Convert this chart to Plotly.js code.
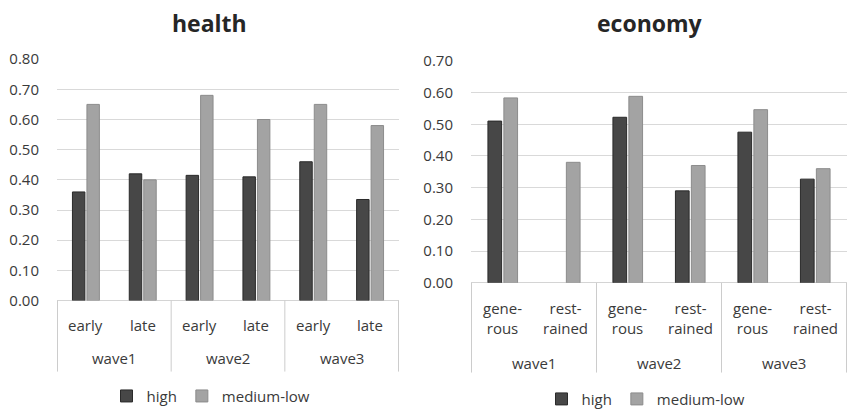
<!DOCTYPE html>
<html>
<head>
<meta charset="utf-8">
<script src="https://cdn.plot.ly/plotly-3.0.1.min.js"></script>
<style>html,body{margin:0;padding:0;background:#fff;overflow:hidden}</style>
</head>
<body>
<div id="chart" style="width:847px;height:416px"></div>
<script>
const waves = ["wave1", "wave1", "wave2", "wave2", "wave3", "wave3"];
const healthSubs = ["early", "late", "early", "late", "early", "late"];
const healthHigh = [0.36, 0.42, 0.415, 0.41, 0.46, 0.335];
const healthMedLow = [0.65, 0.40, 0.68, 0.60, 0.65, 0.58];
const econSubs = ["gene-<br>rous", "rest-<br>rained", "gene-<br>rous", "rest-<br>rained", "gene-<br>rous", "rest-<br>rained"];
const econHigh = [0.51, null, 0.522, 0.29, 0.475, 0.327];
const econMedLow = [0.583, 0.38, 0.588, 0.37, 0.546, 0.36];
const healthTicks = [0, 0.1, 0.2, 0.3, 0.4, 0.5, 0.6, 0.7, 0.8];
const econTicks = [0, 0.1, 0.2, 0.3, 0.4, 0.5, 0.6, 0.7];

const darkFill = "#474747", darkLine = "#2a2a2a";
const lightFill = "#a3a3a3", lightLine = "#8c8c8c";
const FONT = "Open Sans, Noto Sans, sans-serif";
const txt = "#3a3a3a";

const traces = [
  {type: "bar", name: "high", x: [waves, healthSubs], y: healthHigh, xaxis: "x", yaxis: "y",
   marker: {color: darkFill, line: {color: darkLine, width: 1}}, legend: "legend"},
  {type: "bar", name: "medium-low", x: [waves, healthSubs], y: healthMedLow, xaxis: "x", yaxis: "y",
   marker: {color: lightFill, line: {color: lightLine, width: 1}}, legend: "legend"},
  {type: "bar", name: "high", x: [waves, econSubs], y: econHigh, xaxis: "x2", yaxis: "y2",
   marker: {color: darkFill, line: {color: darkLine, width: 1}}, legend: "legend2"},
  {type: "bar", name: "medium-low", x: [waves, econSubs], y: econMedLow, xaxis: "x2", yaxis: "y2",
   marker: {color: lightFill, line: {color: lightLine, width: 1}}, legend: "legend2"}
];

const W = 847, H = 416;
const py = v => 1 - v / H;
const xAxisCommon = {
  type: "multicategory", showgrid: false, zeroline: false,
  showline: false, ticks: "", showdividers: false, showticklabels: false,
  automargin: false, fixedrange: true
};
const yAxisCommon = {
  showgrid: true, gridcolor: "#d9d9d9", gridwidth: 1, zeroline: true, zerolinecolor: "#d4d4d4",
  showline: false, ticks: "", tickformat: ".2f", ticklabelstandoff: 17,
  tickfont: {family: FONT, size: 15, color: txt}, automargin: false, fixedrange: true
};

// titles, category labels and group dividers (placed by category index)
const annotations = [
  {text: "<b>health</b>", x: 209 / W, y: py(23), xref: "paper", yref: "paper", showarrow: false,
    xanchor: "center", yanchor: "middle", font: {family: FONT, size: 23, color: "#262626"}},
  {text: "<b>economy</b>", x: 650 / W, y: py(23), xref: "paper", yref: "paper", showarrow: false,
    xanchor: "center", yanchor: "middle", font: {family: FONT, size: 23, color: "#262626"}}
];
const shapes = [];
const labelFont = {family: FONT, size: 15, color: txt};
healthSubs.forEach((s, i) => annotations.push({text: s, x: i, y: py(330), xref: "x", yref: "paper",
  showarrow: false, xanchor: "center", yanchor: "middle", font: labelFont}));
econSubs.forEach((s, i) => annotations.push({text: s, x: i, y: py(323), xref: "x2", yref: "paper",
  showarrow: false, xanchor: "center", yanchor: "middle", font: labelFont}));
const groups = [...new Set(waves)];
groups.forEach((g, k) => {
  const idx = waves.map((w, i) => w === g ? i : -1).filter(i => i >= 0);
  const mid = (idx[0] + idx[idx.length - 1]) / 2;
  annotations.push({text: g, x: mid, y: py(363), xref: "x", yref: "paper", showarrow: false,
    xanchor: "center", yanchor: "middle", font: labelFont});
  annotations.push({text: g, x: mid, y: py(368), xref: "x2", yref: "paper", showarrow: false,
    xanchor: "center", yanchor: "middle", font: labelFont});
  const edges = k === 0 ? [idx[0] - 0.5, idx[idx.length - 1] + 0.5] : [idx[idx.length - 1] + 0.5];
  edges.forEach(e => {
    shapes.push({type: "line", xref: "x", yref: "paper", x0: e, x1: e, y0: py(377), y1: py(305),
      line: {color: "#cccccc", width: 1}});
    shapes.push({type: "line", xref: "x2", yref: "paper", x0: e, x1: e, y0: py(378), y1: py(287),
      line: {color: "#cccccc", width: 1}});
  });
});

const layout = {
  width: W, height: H,
  margin: {l: 0, r: 0, t: 0, b: 0},
  paper_bgcolor: "#fff", plot_bgcolor: "#fff",
  barmode: "group", bargap: 0.49, bargroupgap: 0.14,
  showlegend: true,
  xaxis: Object.assign({}, xAxisCommon, {domain: [57 / W, 399 / W], anchor: "y"}),
  yaxis: Object.assign({}, yAxisCommon, {domain: [py(305), py(60)], range: [0, 0.8], tickvals: healthTicks, anchor: "x"}),
  xaxis2: Object.assign({}, xAxisCommon, {domain: [471 / W, 1], anchor: "y2"}),
  yaxis2: Object.assign({}, yAxisCommon, {domain: [py(287), py(61.7)], range: [0, 0.7], tickvals: econTicks, anchor: "x2"}),
  legend: {orientation: "h", x: 211 / W, xanchor: "center", y: py(402), yanchor: "middle", itemwidth: 30,
    font: {family: FONT, size: 15, color: txt}, bgcolor: "rgba(0,0,0,0)"},
  legend2: {orientation: "h", x: 646 / W, xanchor: "center", y: py(405), yanchor: "middle", itemwidth: 30,
    font: {family: FONT, size: 15, color: txt}, bgcolor: "rgba(0,0,0,0)"},
  annotations: annotations,
  shapes: shapes
};

Plotly.newPlot("chart", traces, layout, {displayModeBar: false, staticPlot: true});
</script>
</body>
</html>
